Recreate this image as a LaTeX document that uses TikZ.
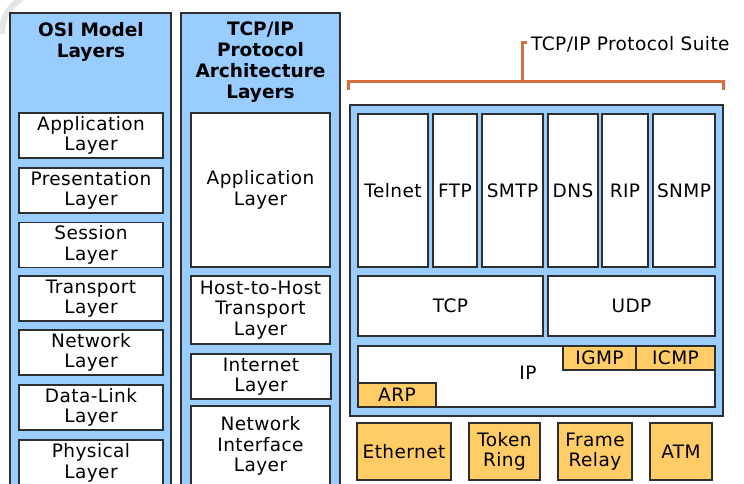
\documentclass[tikz,border=0pt]{standalone}
\usepackage{fontspec}
\setmainfont{DejaVu Sans}
\newfontfamily\vfont[LetterSpace=2.3]{DejaVu Sans}
\definecolor{skyb}{HTML}{99CCFF}
\definecolor{gold}{HTML}{FFCC66}
\definecolor{edge}{HTML}{2E2E2E}
\definecolor{brk}{HTML}{D4703F}
\tikzset{
  base/.style={draw=edge, line width=1.4pt, inner sep=0pt, align=center,
    font=\vfont\fontsize{18.5}{20.5}\selectfont, text=black},
  col/.style={base, fill=skyb},
  wbox/.style={base, fill=white},
  obox/.style={base, fill=gold},
  head/.style={inner sep=0pt, align=center, font=\fontsize{18.5}{20.8}\selectfont\bfseries},
  plain/.style={inner sep=0pt, font=\vfont\fontsize{18.5}{20.5}\selectfont, text=black},
  bracket/.style={brk, line width=3pt},
}
\begin{document}
\begin{tikzpicture}[x=1pt,y=-1pt]
\useasboundingbox (0,0) rectangle (744,484);
\clip (0,0) rectangle (744,484);
\fill[white] (0,0) rectangle (744,484);
% faint corner artifact
\draw[black!10, line width=6pt] (2,34) .. controls (2,16) and (10,5) .. (24,-3);
% OSI column
\node[col, minimum width=161pt, minimum height=477pt] (osi) at (90.5,251.5) {};
\node[head] (osit) at (91,42) {OSI Model\\Layers};
\node[wbox, minimum width=144pt, minimum height=45pt] (o7) at (91,135.5) {Application\\Layer};
\node[wbox, minimum width=144pt, minimum height=45pt] (o6) at (91,190.5) {Presentation\\Layer};
\node[wbox, minimum width=144pt, minimum height=45pt] (o5) at (91,245) {Session\\Layer};
\node[wbox, minimum width=144pt, minimum height=45pt] (o4) at (91,298.5) {Transport\\Layer};
\node[wbox, minimum width=144pt, minimum height=45pt] (o3) at (91,352.5) {Network\\Layer};
\node[wbox, minimum width=144pt, minimum height=45pt] (o2) at (91,407.5) {Data-Link\\Layer};
\node[wbox, minimum width=144pt, minimum height=46pt] (o1) at (91,463) {Physical\\Layer};
% TCP/IP column
\node[col, minimum width=159pt, minimum height=477pt] (tcpcol) at (260.5,251.5) {};
\node[head] (tcpt) at (260.5,62) {TCP/IP\\Protocol\\Architecture\\Layers};
\node[wbox, minimum width=139pt, minimum height=154pt] (t4) at (260.5,190) {Application\\Layer};
\node[wbox, minimum width=139pt, minimum height=68pt] (t3) at (260.5,310) {Host-to-Host\\Transport\\Layer};
\node[wbox, minimum width=140pt, minimum height=45pt] (t2) at (261,376.5) {Internet\\Layer};
\node[wbox, minimum width=139pt, minimum height=80pt] (t1) at (260.5,446) {Network\\Interface\\Layer};
% bracket
\coordinate (bl) at (348,90);
\coordinate (br) at (723,90);
\coordinate (bt) at (527,43);
\draw[bracket] (bl) -- (348,82) -- (723,82) -- (br);
\draw[bracket] (522,82) -- (522,43) -- (bt);
\node[plain, anchor=west] (suite) at (531,44) {TCP/IP Protocol Suite};
% suite box
\node[col, minimum width=373pt, minimum height=311pt] (sbox) at (536.5,260.5) {};
\node[wbox, minimum width=70pt, minimum height=153pt] (telnet) at (393,190.5) {Telnet};
\node[wbox, minimum width=44pt, minimum height=153pt] (ftp) at (455,190.5) {FTP};
\node[wbox, minimum width=61pt, minimum height=153pt] (smtp) at (512.5,190.5) {SMTP};
\node[wbox, minimum width=50pt, minimum height=153pt] (dns) at (573,190.5) {DNS};
\node[wbox, minimum width=46pt, minimum height=153pt] (rip) at (625,190.5) {RIP};
\node[wbox, minimum width=62pt, minimum height=153pt] (snmp) at (684,190.5) {SNMP};
\node[wbox, minimum width=185pt, minimum height=60pt] (tcp) at (450.5,306) {TCP};
\node[wbox, minimum width=167pt, minimum height=60pt] (udp) at (631.5,306) {UDP};
\node[wbox, minimum width=357pt, minimum height=61pt] (ip) at (536.5,376.5) {};
\node[plain] (iplab) at (528,373) {IP};
\node[obox, minimum width=73pt, minimum height=24pt] (igmp) at (599.5,358) {IGMP};
\node[obox, minimum width=79pt, minimum height=24pt] (icmp) at (675.5,358) {ICMP};
\node[obox, minimum width=78pt, minimum height=24pt] (arp) at (397,395) {ARP};
% network technologies
\node[obox, minimum width=94pt, minimum height=57pt] (eth) at (404,451.5) {Ethernet};
\node[obox, minimum width=71pt, minimum height=57pt] (tok) at (504.5,451.5) {Token\\Ring};
\node[obox, minimum width=74pt, minimum height=57pt] (fr) at (595,451.5) {Frame\\Relay};
\node[obox, minimum width=62pt, minimum height=57pt] (atm) at (681,451.5) {ATM};
\end{tikzpicture}
\end{document}
